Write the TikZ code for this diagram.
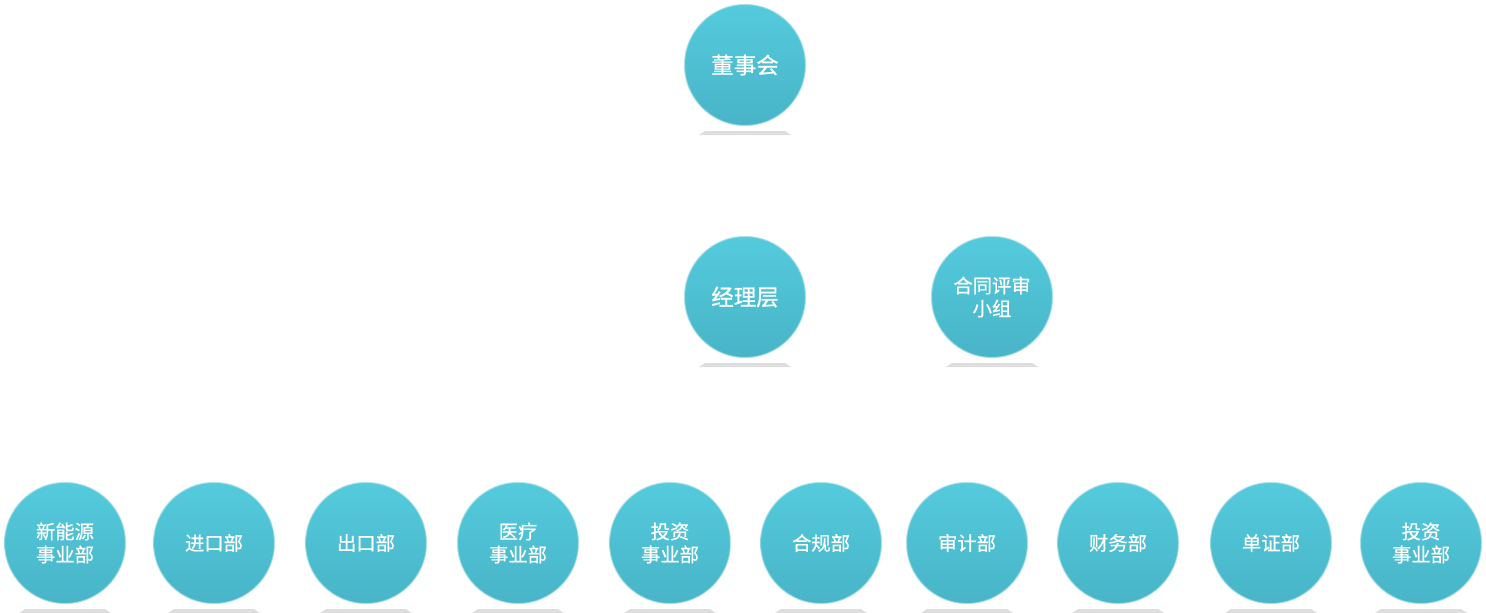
\documentclass[tikz,border=0pt]{standalone}
\usepackage{fontspec}
\newfontfamily\cjk[FakeBold=1.2]{Noto Sans CJK SC}
\definecolor{ctop}{RGB}{84,203,221}
\definecolor{cbot}{RGB}{72,180,199}
\definecolor{cedge}{RGB}{165,222,232}
\definecolor{barc}{RGB}{222,222,222}
\begin{document}
\begin{tikzpicture}[x=1pt,y=-1pt,
  orgball/.style={circle, minimum size=121pt, inner sep=0pt, top color=ctop, bottom color=cbot,
    draw=cedge, line width=1.2pt, draw opacity=0.7, text=white, align=center,
    font=\cjk\fontsize{19.3}{23}\selectfont},
  bigball/.style={orgball, font=\cjk\fontsize{22.5}{26}\selectfont},
  shadowbar/.style={fill=barc}]
\useasboundingbox (0,0) rectangle (1486,613);
\node[bigball] (board) at (745,65) {董事会};
\node[bigball] (mgr) at (745,297) {经理层};
\node[orgball] (review) at (992,297) {合同评审\\小组};
\node[orgball] (d1) at (65,543) {新能源\\事业部};
\node[orgball] (d2) at (214,543) {进口部};
\node[orgball] (d3) at (366,543) {出口部};
\node[orgball] (d4) at (518,543) {医疗\\事业部};
\node[orgball] (d5) at (670,543) {投资\\事业部};
\node[orgball] (d6) at (821,543) {合规部};
\node[orgball] (d7) at (967,543) {审计部};
\node[orgball] (d8) at (1118,543) {财务部};
\node[orgball] (d9) at (1271,543) {单证部};
\node[orgball] (d10) at (1421,543) {投资\\事业部};
\foreach \n in {board,mgr,review,d1,d2,d3,d4,d5,d6,d7,d8,d9,d10}{
  \fill[shadowbar] ([shift={(-40,66)}]\n.center) -- ([shift={(40,66)}]\n.center)
    -- ([shift={(46,70)}]\n.center) -- ([shift={(-46,70)}]\n.center) -- cycle;
}
\end{tikzpicture}
\end{document}
